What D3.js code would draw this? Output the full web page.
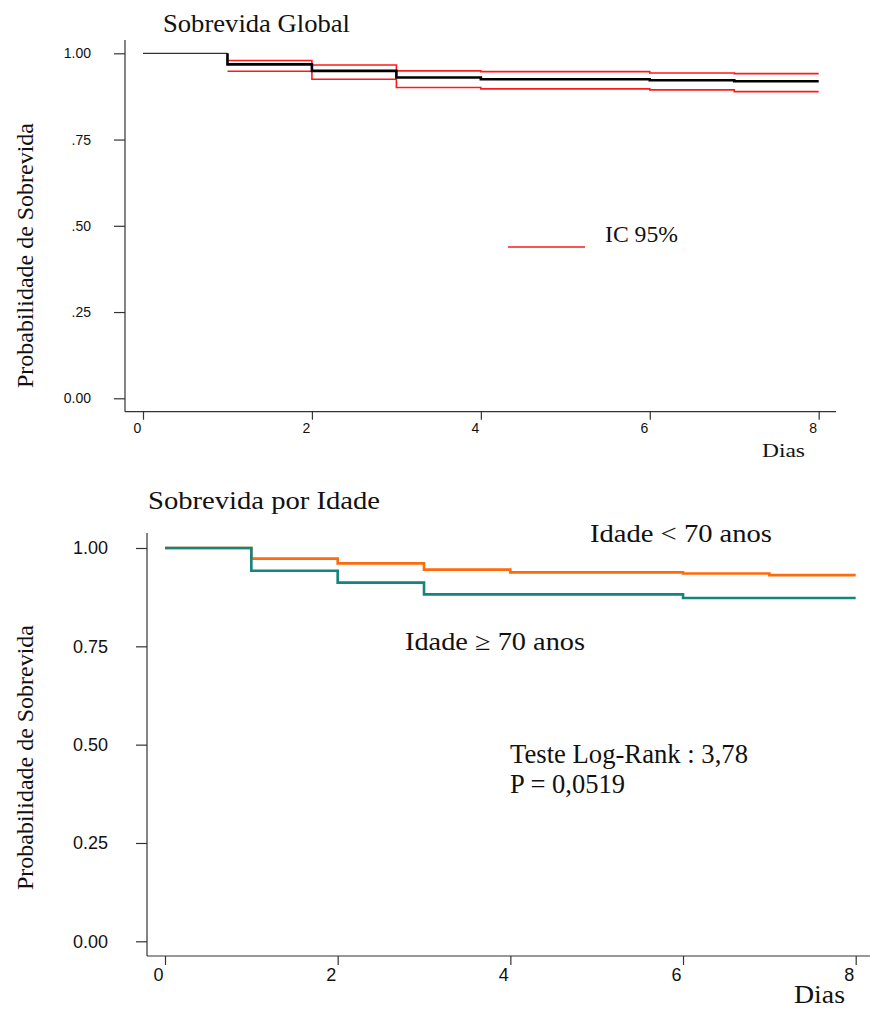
<!DOCTYPE html>
<html>
<head>
<meta charset="utf-8">
<script src="https://cdn.jsdelivr.net/npm/d3@7"></script>
<style>
  html, body { margin: 0; padding: 0; background: #fff; }
  svg { display: block; }
</style>
</head>
<body>
<svg id="chart" width="870" height="1010"></svg>
<script>
// ---------- DATA ----------
const xTicks = [0, 2, 4, 6, 8];
const yTicks = [0, 0.25, 0.5, 0.75, 1];
const topYTickLabels = ["0.00", ".25", ".50", ".75", "1.00"];
const bottomYTickLabels = ["0.00", "0.25", "0.50", "0.75", "1.00"];

// Sobrevida Global (Kaplan-Meier) and 95% CI
const globalTimes = [0, 1, 2, 3, 4, 6, 7, 8];
const globalSurv  = [1.000, 0.968, 0.949, 0.930, 0.925, 0.922, 0.919, 0.919];
const ciTimes = [1, 2, 3, 4, 6, 7, 8];
const ciUpper = [0.979, 0.966, 0.949, 0.947, 0.943, 0.941, 0.941];
const ciLower = [0.948, 0.925, 0.901, 0.897, 0.894, 0.889, 0.889];

// Sobrevida por Idade
const ageTimes = [0, 1, 2, 3, 4, 6, 7, 8];
const survUnder70 = [1.000, 0.973, 0.961, 0.945, 0.938, 0.935, 0.931, 0.931];
const survOver70  = [1.000, 0.942, 0.912, 0.882, 0.882, 0.873, 0.873, 0.873];

// ---------- DRAWING ----------
const svg = d3.select("#chart");
const SERIF = "'Liberation Serif', 'Times New Roman', serif";
const SANS = "'Liberation Sans', Arial, sans-serif";
const AXIS = "#333";

function pts(times, vals) { return times.map((t, i) => [t, vals[i]]); }

function stepPath(g, x, y, data, color, width) {
  const line = d3.line().x(d => x(d[0])).y(d => y(d[1])).curve(d3.curveStepAfter);
  g.append("path").attr("d", line(data)).attr("fill", "none")
    .attr("stroke", color).attr("stroke-width", width);
}

function text(g, str, x, y, size, len, family, extra) {
  const t = g.append("text").attr("x", x).attr("y", y)
    .attr("font-family", family || SERIF).attr("font-size", size)
    .attr("fill", "#111").text(str);
  if (len) t.attr("textLength", len).attr("lengthAdjust", "spacingAndGlyphs");
  if (extra) extra(t);
  return t;
}

// ===== Top chart =====
{
  const g = svg.append("g");
  const x = d3.scaleLinear().domain([0, 8]).range([143, 818.7]);
  const y = d3.scaleLinear().domain([0, 1]).range([398.3, 53.3]);
  const axX = 125, axY = 411.7;

  g.append("line").attr("x1", axX).attr("x2", axX).attr("y1", 40).attr("y2", axY)
    .attr("stroke", AXIS).attr("stroke-width", 1.2);
  g.append("line").attr("x1", axX).attr("x2", 836).attr("y1", axY).attr("y2", axY)
    .attr("stroke", AXIS).attr("stroke-width", 1.2);

  const yAxis = d3.axisLeft(y).tickValues(yTicks).tickSize(11).tickPadding(0)
    .tickFormat((d, i) => topYTickLabels[i]);
  const ya = g.append("g").attr("transform", `translate(${axX},0)`).call(yAxis);
  ya.select(".domain").remove();
  ya.selectAll(".tick line").attr("stroke", AXIS).attr("stroke-width", 1.2);
  ya.selectAll(".tick text").attr("x", -34).attr("font-family", SANS)
    .attr("font-size", 14).attr("fill", "#111");

  const xAxis = d3.axisBottom(x).tickValues(xTicks).tickSize(8).tickPadding(3)
    .tickFormat(d3.format("d"));
  const xa = g.append("g").attr("transform", `translate(0,${axY})`).call(xAxis);
  xa.select(".domain").remove();
  xa.selectAll(".tick line").attr("stroke", AXIS).attr("stroke-width", 1.2);
  xa.selectAll(".tick text").attr("x", -6).attr("font-family", SANS)
    .attr("font-size", 14).attr("fill", "#111");

  stepPath(g, x, y, pts(ciTimes, ciUpper), "#ff1a1a", 1.6);
  stepPath(g, x, y, pts(ciTimes, ciLower), "#ff1a1a", 1.6);
  stepPath(g, x, y, pts(globalTimes.slice(0, 2), [globalSurv[0], globalSurv[0]]), "#000", 1);
  stepPath(g, x, y, [[globalTimes[1], globalSurv[0]]].concat(pts(globalTimes.slice(1), globalSurv.slice(1))), "#000", 2.6);

  g.append("line").attr("x1", 508).attr("x2", 585).attr("y1", 247).attr("y2", 247)
    .attr("stroke", "#ff1a1a").attr("stroke-width", 1.6);
  text(g, "IC 95%", 605, 241.7, 24, 73);

  text(g, "Sobrevida Global", 163, 31.5, 26, 187);
  text(g, "Dias", 762, 456.5, 19, 43);
  text(g, "Probabilidade de Sobrevida", 0, 0, 24, 265, SERIF, t =>
    t.attr("text-anchor", "middle").attr("transform", "translate(33,255.5) rotate(-90)"));
}

// ===== Bottom chart =====
{
  const g = svg.append("g");
  const x = d3.scaleLinear().domain([0, 8]).range([165, 855.7]);
  const y = d3.scaleLinear().domain([0, 1]).range([941.3, 548]);
  const axX = 147, axY = 956;

  g.append("line").attr("x1", axX).attr("x2", axX).attr("y1", 533).attr("y2", axY)
    .attr("stroke", AXIS).attr("stroke-width", 1.2);
  g.append("line").attr("x1", axX).attr("x2", 870).attr("y1", axY).attr("y2", axY)
    .attr("stroke", AXIS).attr("stroke-width", 1.2);

  const yAxis = d3.axisLeft(y).tickValues(yTicks).tickSize(11).tickPadding(0)
    .tickFormat((d, i) => bottomYTickLabels[i]);
  const ya = g.append("g").attr("transform", `translate(${axX},0)`).call(yAxis);
  ya.select(".domain").remove();
  ya.selectAll(".tick line").attr("stroke", AXIS).attr("stroke-width", 1.2);
  ya.selectAll(".tick text").attr("x", -39).attr("font-family", SANS)
    .attr("font-size", 18).attr("fill", "#111");

  const xAxis = d3.axisBottom(x).tickValues(xTicks).tickSize(9).tickPadding(3)
    .tickFormat(d3.format("d"));
  const xa = g.append("g").attr("transform", `translate(0,${axY})`).call(xAxis);
  xa.select(".domain").remove();
  xa.selectAll(".tick line").attr("stroke", AXIS).attr("stroke-width", 1.2);
  xa.selectAll(".tick text").attr("x", -7).attr("font-family", SANS)
    .attr("font-size", 18).attr("fill", "#111");

  stepPath(g, x, y, pts(ageTimes, survUnder70), "#ff6a0a", 2.6);
  stepPath(g, x, y, pts(ageTimes, survOver70), "#13847f", 2.6);

  text(g, "Sobrevida por Idade", 148, 509, 26, 232);
  text(g, "Idade < 70 anos", 590, 542, 25, 182);
  text(g, "Idade \u2265 70 anos", 405, 650, 25, 180);
  text(g, "Teste Log-Rank : 3,78", 510, 763, 27, 238);
  text(g, "P = 0,0519", 510, 793, 27, 115);
  text(g, "Dias", 794, 1003, 25, 51);
  text(g, "Probabilidade de Sobrevida", 0, 0, 24, 265, SERIF, t =>
    t.attr("text-anchor", "middle").attr("transform", "translate(33,757.5) rotate(-90)"));
}
</script>
</body>
</html>
